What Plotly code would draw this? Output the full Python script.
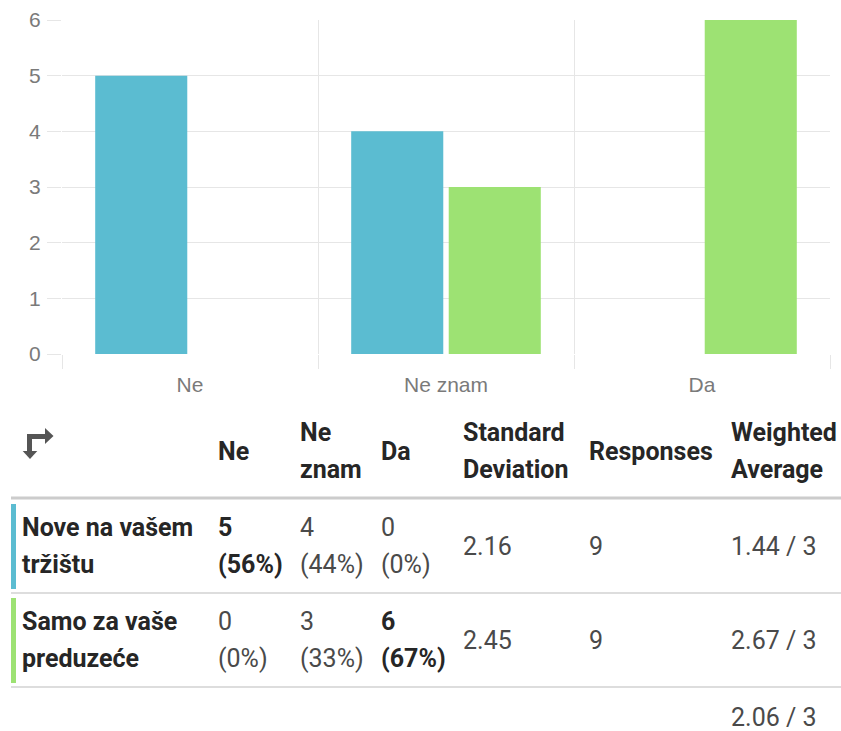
import textwrap
import plotly.graph_objects as go

# ---------------- data ----------------
categories = ["Ne", "Ne znam", "Da"]
row_labels = ["Nove na vašem tržištu", "Samo za vaše preduzeće"]
counts_row1 = [5, 4, 0]
counts_row2 = [0, 3, 6]
std_devs = ["2.16", "2.45"]
responses = [9, 9]
weighted_avgs = ["1.44 / 3", "2.67 / 3"]
overall_avg = "2.06 / 3"
header_labels = ["Ne", "Ne znam", "Da", "Standard Deviation", "Responses", "Weighted Average"]
series_colors = ["#5bbcd1", "#9de273"]

all_counts = [counts_row1, counts_row2]

W, H = 841, 731


def X(px):
    return px / W


def Y(py):
    return 1 - py / H


fig = go.Figure()
for name, vals, col in zip(row_labels, all_counts, series_colors):
    fig.add_trace(go.Bar(x=categories, y=vals, name=name, marker=dict(color=col, line=dict(width=0)),
                         hoverinfo="skip"))

grid = "#e6e6e6"
tickfont = dict(family="Liberation Sans, Arial, sans-serif", size=21, color="#7a7a7a")
fig.update_layout(
    width=W, height=H, margin=dict(l=0, r=0, t=0, b=0, autoexpand=False),
    paper_bgcolor="white", plot_bgcolor="white",
    showlegend=False, barmode="group", bargap=0.238, bargroupgap=0.056,
    xaxis=dict(type="category", domain=[X(62), X(830)], range=[-0.5, 2.5],
               tickson="boundaries", showgrid=True, gridcolor=grid, gridwidth=1,
               ticks="outside", ticklen=14, tickcolor=grid, tickfont=tickfont,
               ticklabelstandoff=16, automargin=False,
               showline=False, zeroline=False, fixedrange=True),
    yaxis=dict(domain=[Y(354), Y(20)], range=[0, 6], dtick=1, showgrid=True, gridcolor=grid,
               ticks="outside", ticklen=14, tickcolor=grid, tickfont=tickfont, automargin=False,
               ticklabelstandoff=2,
               showline=False, zeroline=False, fixedrange=True),
)

shapes = []
annotations = []

# --------------- table ---------------
FS = 25
hdr_font = dict(family="Roboto", size=FS, color="#262626")
body_font = dict(family="Roboto", size=FS, color="#4a4a4a")
col_x = [216, 298, 379, 461, 587, 729]
LS = 37


def text(px, py, s, bold=False, color=None):
    f = dict(hdr_font if bold else body_font)
    if color:
        f["color"] = color
    annotations.append(dict(x=X(px), y=Y(py), xref="paper", yref="paper", text=(f"<b>{s}</b>" if bold else s),
                            showarrow=False, xanchor="left", yanchor="middle", font=f))


# header
hdr_center = 451
for cx, lab in zip(col_x, header_labels):
    words = lab.split(" ")
    if len(words) == 1:
        text(cx, hdr_center, lab, bold=True)
    else:
        text(cx, hdr_center - LS / 2, words[0], bold=True)
        text(cx, hdr_center + LS / 2, " ".join(words[1:]), bold=True)

# transpose icon
ic = "#555555"
shapes.append(dict(type="path", xref="paper", yref="paper",
                   path=f"M {X(29.5)} {Y(452)} L {X(29.5)} {Y(436.5)} L {X(47)} {Y(436.5)}",
                   line=dict(color=ic, width=5), fillcolor="rgba(0,0,0,0)"))
shapes.append(dict(type="path", xref="paper", yref="paper",
                   path=f"M {X(22.7)} {Y(451)} L {X(37.3)} {Y(451)} L {X(30)} {Y(459)} Z",
                   line=dict(width=0), fillcolor=ic))
shapes.append(dict(type="path", xref="paper", yref="paper",
                   path=f"M {X(45)} {Y(428)} L {X(45)} {Y(444)} L {X(53.5)} {Y(436)} Z",
                   line=dict(width=0), fillcolor=ic))

# lines
shapes.append(dict(type="line", xref="paper", yref="paper", x0=X(11), x1=1, y0=Y(498), y1=Y(498),
                   line=dict(color="#cccccc", width=3)))
row_centers = [546, 640]
row_bottoms = [593, 687]
for i in range(2):
    shapes.append(dict(type="line", xref="paper", yref="paper", x0=X(11), x1=1,
                       y0=Y(row_bottoms[i]), y1=Y(row_bottoms[i]), line=dict(color="#dddddd", width=2)))
    shapes.append(dict(type="line", xref="paper", yref="paper", x0=X(13.5), x1=X(13.5),
                       y0=Y(row_bottoms[i] - 4), y1=Y(row_bottoms[i] - 89),
                       line=dict(color=series_colors[i], width=5)))

for i, lab in enumerate(row_labels):
    rc = row_centers[i]
    lines = textwrap.wrap(lab, 13)
    for j, ln in enumerate(lines):
        text(20, rc - LS / 2 + j * LS, ln, bold=True)
    total = responses[i]
    mx = max(all_counts[i])
    for k, c in enumerate(all_counts[i]):
        pct = f"({round(100 * c / total)}%)"
        b = (c == mx)
        text(col_x[k], rc - LS / 2, str(c), bold=b)
        text(col_x[k], rc + LS / 2, pct, bold=b)
    text(col_x[3], rc, std_devs[i])
    text(col_x[4], rc, str(responses[i]))
    text(col_x[5], rc, weighted_avgs[i])

text(col_x[5], 717, overall_avg)

fig.update_layout(shapes=shapes, annotations=annotations)
fig.write_html("out.html")
